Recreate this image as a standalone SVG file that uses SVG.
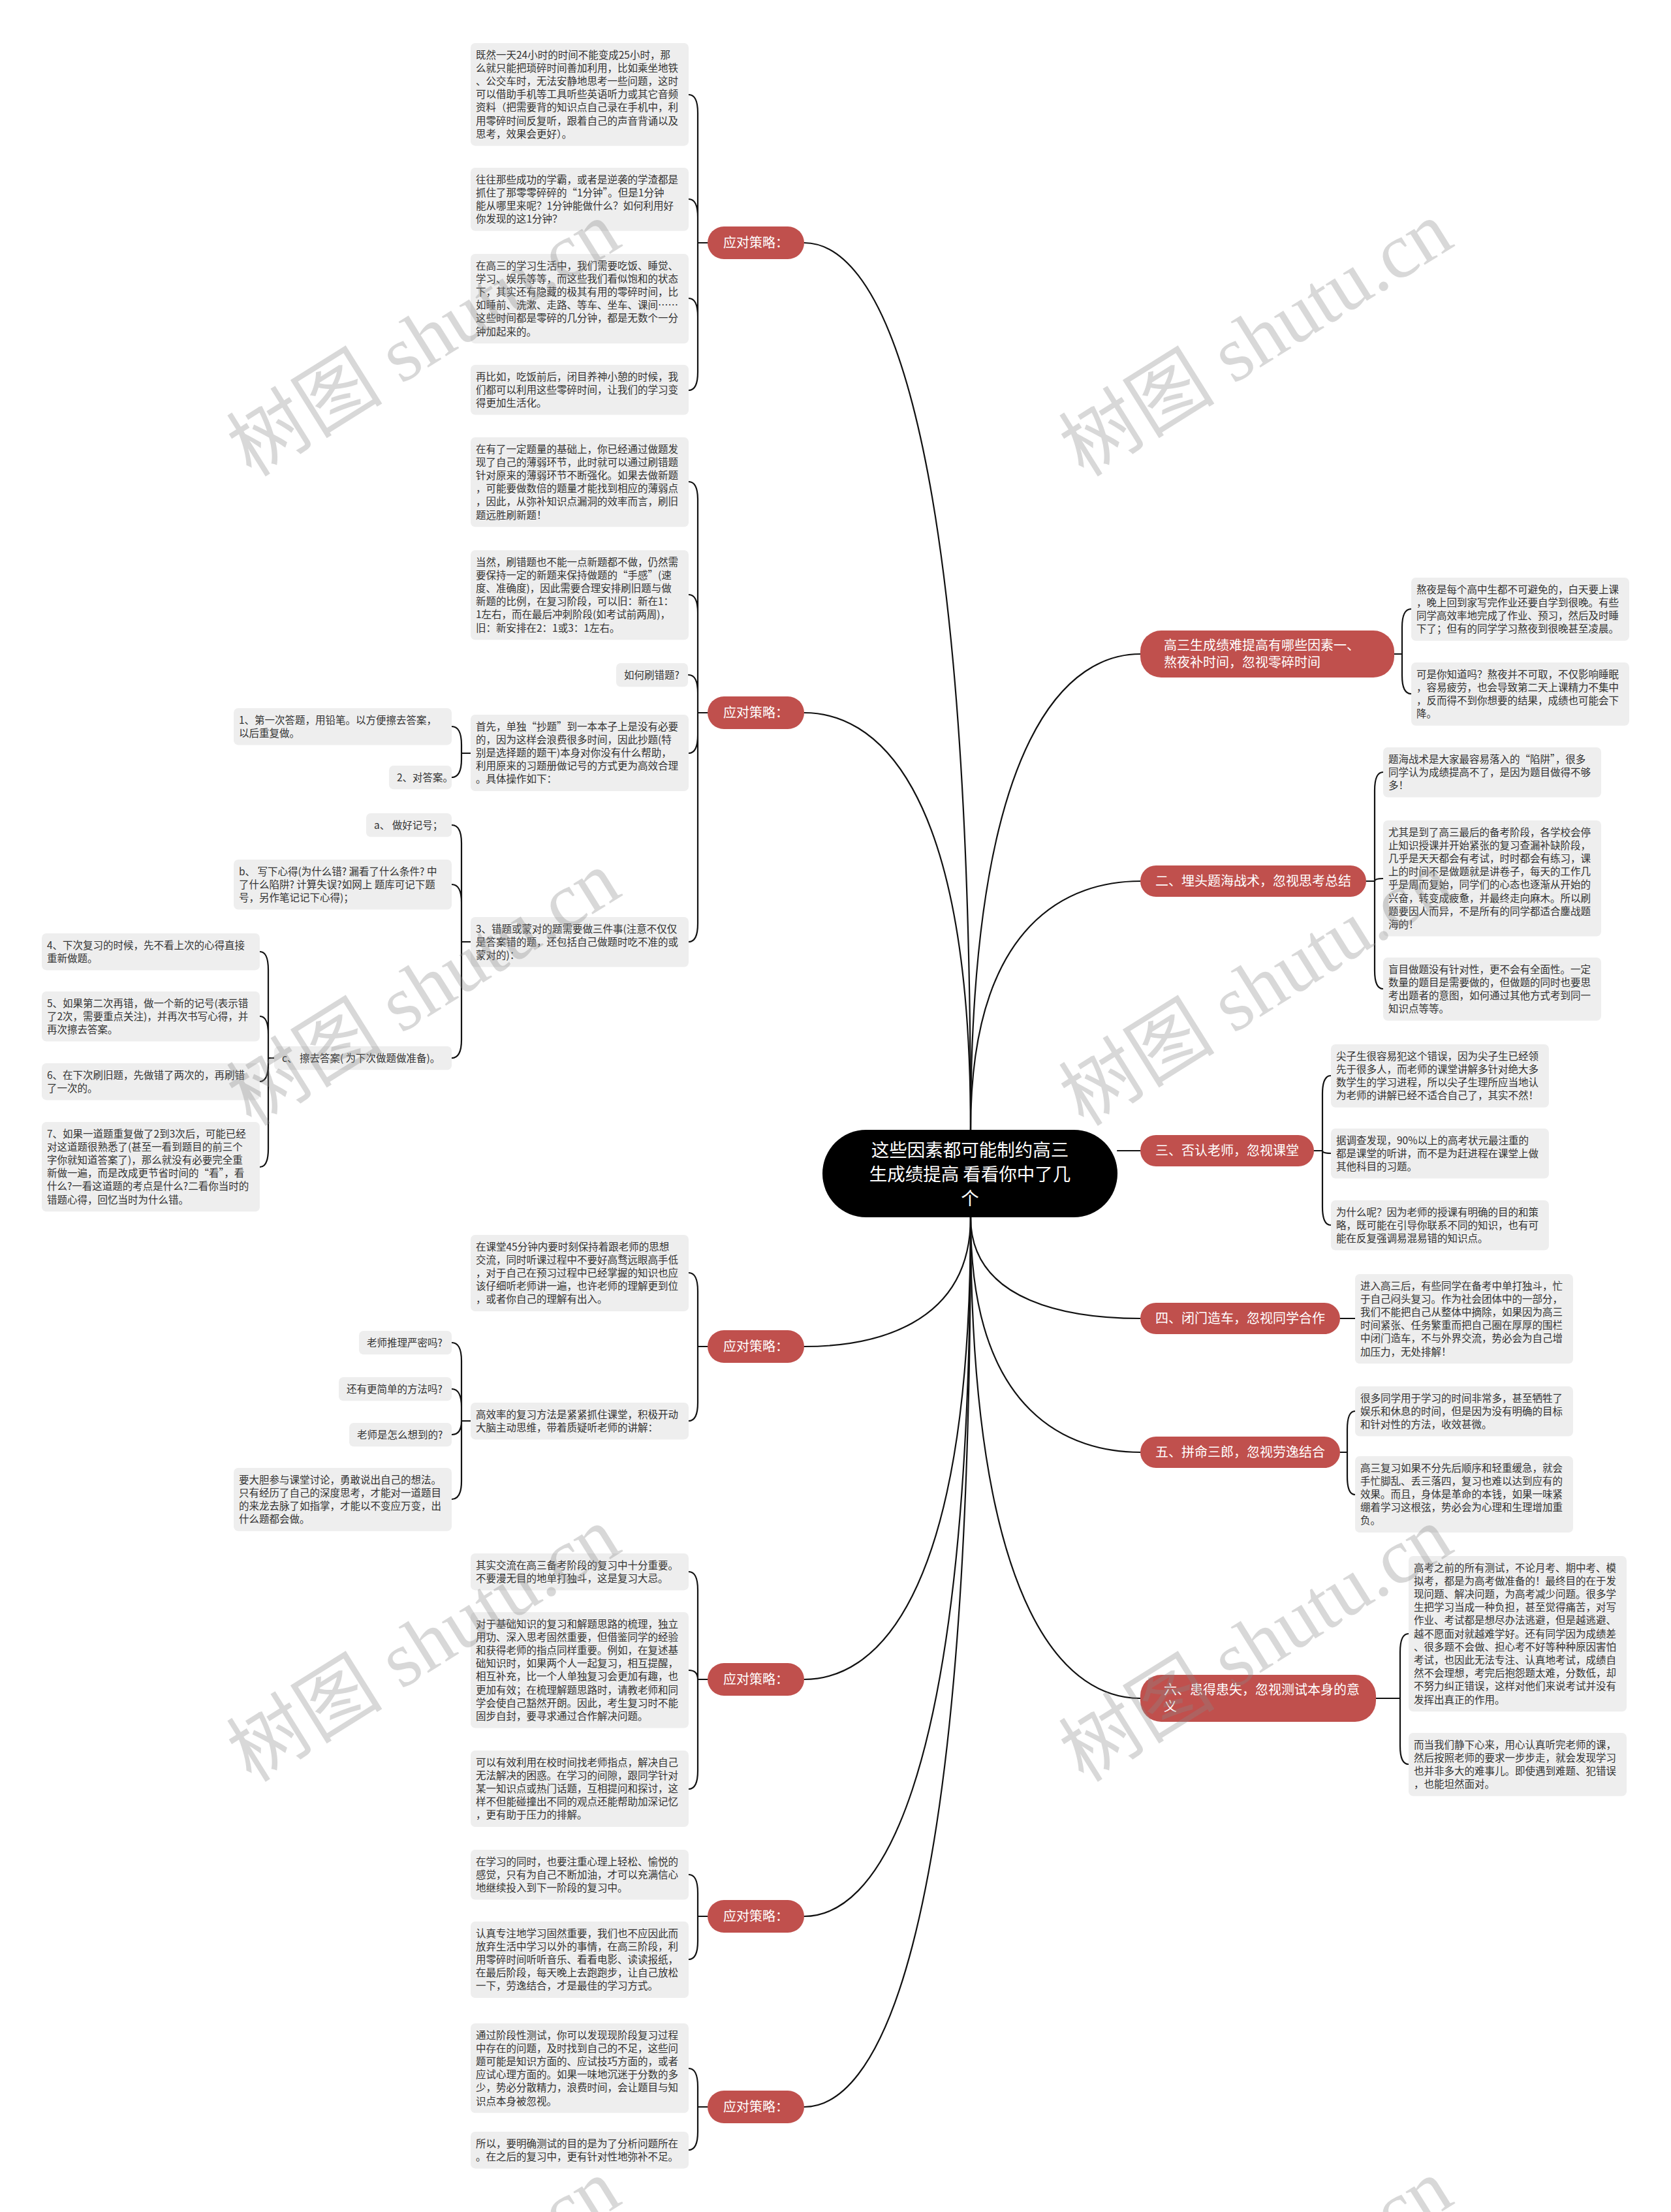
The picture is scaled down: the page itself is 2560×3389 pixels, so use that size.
<svg xmlns="http://www.w3.org/2000/svg" width="2560" height="3389" viewBox="0 0 2560 3389">
<style>
.bg{fill:#ffffff}
.b{fill:#eeeeee}
.t{font-family:"Noto Sans CJK SC","Noto Sans",sans-serif;font-size:15.5px;fill:#333333}
.rn{fill:#c0504d}
.rt{font-family:"Noto Sans CJK SC","Noto Sans",sans-serif;font-size:20px;fill:#ffffff}
.ct{font-family:"Noto Sans CJK SC","Noto Sans",sans-serif;font-size:27.5px;fill:#ffffff;text-anchor:middle}
.mid{text-anchor:middle}
.ln{fill:none;stroke:#111111;stroke-width:2.2;stroke-linecap:round}
.wm{font-family:"Liberation Serif","Noto Sans CJK SC",serif;font-size:120px;fill:#888888;fill-opacity:0.33;text-anchor:middle}
</style>
<rect class="bg" x="0" y="0" width="2560" height="3389"/>
<g id="connectors">
<path class="ln" d="M1487,1731 C1487,576 1334,372 1232,372"/>
<path class="ln" d="M1487,1731 C1487,1188 1334,1092 1232,1092"/>
<path class="ln" d="M1487,1731 C1487,1111 1643,1002 1747,1002"/>
<path class="ln" d="M1487,1731 C1487,1407 1643,1350 1747,1350"/>
<path class="ln" d="M1712,1763 H1747"/>
<path class="ln" d="M1487,1865 C1487,2033 1334,2063 1232,2063"/>
<path class="ln" d="M1487,1865 C1487,2467 1334,2573 1232,2573"/>
<path class="ln" d="M1487,1865 C1487,2775 1334,2936 1232,2936"/>
<path class="ln" d="M1487,1865 C1487,3024 1334,3228 1232,3228"/>
<path class="ln" d="M1487,1865 C1487,1997 1643,2020 1747,2020"/>
<path class="ln" d="M1487,1865 C1487,2171 1643,2225 1747,2225"/>
<path class="ln" d="M1487,1865 C1487,2491 1643,2602 1747,2602"/>
<path class="ln" d="M1084,372H1069 M1069,372V173Q1069,145 1055,145 M1069,372V333Q1069,305 1055,305 M1069,372V485Q1069,457 1055,457 M1069,372V570Q1069,598 1055,598"/>
<path class="ln" d="M1084,1092H1069 M1069,1092V766Q1069,738 1055,738 M1069,1092V939Q1069,911 1055,911 M1069,1092V1062Q1069,1034 1055,1034 M1069,1092V1126Q1069,1154 1055,1154 M1069,1092V1415Q1069,1443 1055,1443"/>
<path class="ln" d="M721,1154H707 M707,1154V1141Q707,1113 692,1113 M707,1154V1163Q707,1191 692,1191"/>
<path class="ln" d="M721,1443H707 M707,1443V1292Q707,1264 692,1264 M707,1443V1383Q707,1355 692,1355 M707,1443V1593Q707,1621 692,1621"/>
<path class="ln" d="M420,1621H411 M411,1621V1486Q411,1458 398,1458 M411,1621V1585Q411,1557 398,1557 M411,1621V1629Q411,1657 398,1657 M411,1621V1760Q411,1788 398,1788"/>
<path class="ln" d="M1084,2063H1069 M1069,2063V1978Q1069,1950 1055,1950 M1069,2063V2149Q1069,2177 1055,2177"/>
<path class="ln" d="M721,2177H707 M707,2177V2085Q707,2057 692,2057 M707,2177V2156Q707,2128 692,2128 M707,2177Q707,2198 692,2198 M707,2177V2269Q707,2297 692,2297"/>
<path class="ln" d="M1084,2573H1069 M1069,2573V2436Q1069,2408 1055,2408 M1069,2573Q1069,2559 1055,2559 M1069,2573V2713Q1069,2741 1055,2741"/>
<path class="ln" d="M1084,2936H1069 M1069,2936V2900Q1069,2872 1055,2872 M1069,2936V2974Q1069,3002 1055,3002"/>
<path class="ln" d="M1084,3228H1069 M1069,3228V3197Q1069,3169 1055,3169 M1069,3228V3266Q1069,3294 1055,3294"/>
<path class="ln" d="M2136,1002H2148 M2148,1002V961Q2148,933 2162,933 M2148,1002V1035Q2148,1063 2162,1063"/>
<path class="ln" d="M2093,1350H2106 M2106,1350V1211Q2106,1183 2119,1183 M2106,1350Q2106,1346 2119,1346 M2106,1350V1487Q2106,1515 2119,1515"/>
<path class="ln" d="M2013,1763H2026 M2026,1763V1676Q2026,1648 2039,1648 M2026,1763Q2026,1767 2039,1767 M2026,1763V1849Q2026,1877 2039,1877"/>
<path class="ln" d="M2053,2020H2076"/>
<path class="ln" d="M2053,2225H2064 M2064,2225V2190Q2064,2162 2076,2162 M2064,2225V2262Q2064,2290 2076,2290"/>
<path class="ln" d="M2108,2602H2145 M2145,2602V2531Q2145,2503 2158,2503 M2145,2602V2675Q2145,2703 2158,2703"/>
</g>
<g id="center"><rect x="1260" y="1731" width="452" height="134" rx="67" fill="#000000"/><text class="ct" x="1486" y="1772"><tspan x="1486">这些因素都可能制约高三</tspan><tspan x="1486" dy="37">生成绩提高 看看你中了几</tspan><tspan x="1486" dy="37">个</tspan></text></g>
<g id="L1"><rect class="rn" x="1084" y="347" width="148" height="50" rx="25"/><text class="rt mid" x="1158" y="379">应对策略：</text></g>
<g id="L2"><rect class="rn" x="1084" y="1067" width="148" height="50" rx="25"/><text class="rt mid" x="1158" y="1099">应对策略：</text></g>
<g id="L3"><rect class="rn" x="1084" y="2038" width="148" height="50" rx="25"/><text class="rt mid" x="1158" y="2070">应对策略：</text></g>
<g id="L4"><rect class="rn" x="1084" y="2548" width="148" height="50" rx="25"/><text class="rt mid" x="1158" y="2580">应对策略：</text></g>
<g id="L5"><rect class="rn" x="1084" y="2911" width="148" height="50" rx="25"/><text class="rt mid" x="1158" y="2943">应对策略：</text></g>
<g id="L6"><rect class="rn" x="1084" y="3203" width="148" height="50" rx="25"/><text class="rt mid" x="1158" y="3235">应对策略：</text></g>
<g id="R1"><rect class="rn" x="1747" y="966" width="389" height="72" rx="32"/><text class="rt" x="1783" y="996"><tspan x="1783">高三生成绩难提高有哪些因素一、</tspan><tspan x="1783" dy="26">熬夜补时间，忽视零碎时间</tspan></text></g>
<g id="R2"><rect class="rn" x="1747" y="1326" width="346" height="48" rx="24"/><text class="rt mid" x="1920" y="1357">二、埋头题海战术，忽视思考总结</text></g>
<g id="R3"><rect class="rn" x="1747" y="1739" width="266" height="48" rx="24"/><text class="rt mid" x="1880" y="1770">三、否认老师，忽视课堂</text></g>
<g id="R4"><rect class="rn" x="1747" y="1996" width="306" height="48" rx="24"/><text class="rt mid" x="1900" y="2027">四、闭门造车，忽视同学合作</text></g>
<g id="R5"><rect class="rn" x="1747" y="2201" width="306" height="48" rx="24"/><text class="rt mid" x="1900" y="2232">五、拼命三郎，忽视劳逸结合</text></g>
<g id="R6"><rect class="rn" x="1747" y="2566" width="361" height="72" rx="32"/><text class="rt" x="1783" y="2596"><tspan x="1783">六、患得患失，忽视测试本身的意</tspan><tspan x="1783" dy="26">义</tspan></text></g>
<g id="a1"><rect class="b" x="721" y="66" width="334" height="157.4" rx="7"/><text class="t" x="729" y="89.5"><tspan x="729">既然一天24小时的时间不能变成25小时，那</tspan><tspan x="729" dy="20.2">么就只能把琐碎时间善加利用，比如乘坐地铁</tspan><tspan x="729" dy="20.2">、公交车时，无法安静地思考一些问题，这时</tspan><tspan x="729" dy="20.2">可以借助手机等工具听些英语听力或其它音频</tspan><tspan x="729" dy="20.2">资料（把需要背的知识点自己录在手机中，利</tspan><tspan x="729" dy="20.2">用零碎时间反复听，跟着自己的声音背诵以及</tspan><tspan x="729" dy="20.2">思考，效果会更好）。</tspan></text></g>
<g id="a2"><rect class="b" x="721" y="257" width="334" height="96.8" rx="7"/><text class="t" x="729" y="280.5"><tspan x="729">往往那些成功的学霸，或者是逆袭的学渣都是</tspan><tspan x="729" dy="20.2">抓住了那零零碎碎的“1分钟”。但是1分钟</tspan><tspan x="729" dy="20.2">能从哪里来呢？1分钟能做什么？如何利用好</tspan><tspan x="729" dy="20.2">你发现的这1分钟？</tspan></text></g>
<g id="a3"><rect class="b" x="721" y="389" width="334" height="137.2" rx="7"/><text class="t" x="729" y="412.5"><tspan x="729">在高三的学习生活中，我们需要吃饭、睡觉、</tspan><tspan x="729" dy="20.2">学习、娱乐等等，而这些我们看似饱和的状态</tspan><tspan x="729" dy="20.2">下，其实还有隐藏的极其有用的零碎时间，比</tspan><tspan x="729" dy="20.2">如睡前、洗漱、走路、等车、坐车、课间……</tspan><tspan x="729" dy="20.2">这些时间都是零碎的几分钟，都是无数个一分</tspan><tspan x="729" dy="20.2">钟加起来的。</tspan></text></g>
<g id="a4"><rect class="b" x="721" y="559" width="334" height="76.6" rx="7"/><text class="t" x="729" y="582.5"><tspan x="729">再比如，吃饭前后，闭目养神小憩的时候，我</tspan><tspan x="729" dy="20.2">们都可以利用这些零碎时间，让我们的学习变</tspan><tspan x="729" dy="20.2">得更加生活化。</tspan></text></g>
<g id="b1"><rect class="b" x="721" y="670" width="334" height="137.2" rx="7"/><text class="t" x="729" y="693.5"><tspan x="729">在有了一定题量的基础上，你已经通过做题发</tspan><tspan x="729" dy="20.2">现了自己的薄弱环节，此时就可以通过刷错题</tspan><tspan x="729" dy="20.2">针对原来的薄弱环节不断强化。如果去做新题</tspan><tspan x="729" dy="20.2">，可能要做数倍的题量才能找到相应的薄弱点</tspan><tspan x="729" dy="20.2">，因此，从弥补知识点漏洞的效率而言，刷旧</tspan><tspan x="729" dy="20.2">题远胜刷新题！</tspan></text></g>
<g id="b2"><rect class="b" x="721" y="843" width="334" height="137.2" rx="7"/><text class="t" x="729" y="866.5"><tspan x="729">当然，刷错题也不能一点新题都不做，仍然需</tspan><tspan x="729" dy="20.2">要保持一定的新题来保持做题的“手感”(速</tspan><tspan x="729" dy="20.2">度、准确度)，因此需要合理安排刷旧题与做</tspan><tspan x="729" dy="20.2">新题的比例，在复习阶段，可以旧：新在1：</tspan><tspan x="729" dy="20.2">1左右，而在最后冲刺阶段(如考试前两周)，</tspan><tspan x="729" dy="20.2">旧：新安排在2：1或3：1左右。</tspan></text></g>
<g id="b3"><rect class="b" x="944" y="1016" width="110" height="36.2" rx="7"/><text class="t" x="956" y="1039.5">如何刷错题?</text></g>
<g id="b4"><rect class="b" x="721" y="1095" width="334" height="117" rx="7"/><text class="t" x="729" y="1118.5"><tspan x="729">首先，单独“抄题”到一本本子上是没有必要</tspan><tspan x="729" dy="20.2">的，因为这样会浪费很多时间，因此抄题(特</tspan><tspan x="729" dy="20.2">别是选择题的题干)本身对你没有什么帮助，</tspan><tspan x="729" dy="20.2">利用原来的习题册做记号的方式更为高效合理</tspan><tspan x="729" dy="20.2">。具体操作如下：</tspan></text></g>
<g id="b4a"><rect class="b" x="358" y="1085" width="334" height="56.4" rx="7"/><text class="t" x="366" y="1108.5"><tspan x="366">1、第一次答题，用铅笔。以方便擦去答案，</tspan><tspan x="366" dy="20.2">以后重复做。</tspan></text></g>
<g id="b4b"><rect class="b" x="596" y="1173" width="96" height="36.2" rx="7"/><text class="t" x="608" y="1196.5">2、对答案。</text></g>
<g id="b5"><rect class="b" x="721" y="1405" width="334" height="76.6" rx="7"/><text class="t" x="729" y="1428.5"><tspan x="729">3、错题或蒙对的题需要做三件事(注意不仅仅</tspan><tspan x="729" dy="20.2">是答案错的题，还包括自己做题时吃不准的或</tspan><tspan x="729" dy="20.2">蒙对的)：</tspan></text></g>
<g id="b5a"><rect class="b" x="561" y="1246" width="131" height="36.2" rx="7"/><text class="t" x="573" y="1269.5">a、 做好记号；</text></g>
<g id="b5b"><rect class="b" x="358" y="1317" width="334" height="76.6" rx="7"/><text class="t" x="366" y="1340.5"><tspan x="366">b、 写下心得(为什么错? 漏看了什么条件? 中</tspan><tspan x="366" dy="20.2">了什么陷阱? 计算失误?如网上 题库可记下题</tspan><tspan x="366" dy="20.2">号，另作笔记记下心得)；</tspan></text></g>
<g id="b5c"><rect class="b" x="420" y="1603" width="272" height="36.2" rx="7"/><text class="t" x="432" y="1626.5">c、 擦去答案( 为下次做题做准备)。</text></g>
<g id="s4"><rect class="b" x="64" y="1430" width="334" height="56.4" rx="7"/><text class="t" x="72" y="1453.5"><tspan x="72">4、下次复习的时候，先不看上次的心得直接</tspan><tspan x="72" dy="20.2">重新做题。</tspan></text></g>
<g id="s5"><rect class="b" x="64" y="1519" width="334" height="76.6" rx="7"/><text class="t" x="72" y="1542.5"><tspan x="72">5、如果第二次再错，做一个新的记号(表示错</tspan><tspan x="72" dy="20.2">了2次，需要重点关注)，并再次书写心得，并</tspan><tspan x="72" dy="20.2">再次擦去答案。</tspan></text></g>
<g id="s6"><rect class="b" x="64" y="1629" width="334" height="56.4" rx="7"/><text class="t" x="72" y="1652.5"><tspan x="72">6、在下次刷旧题，先做错了两次的，再刷错</tspan><tspan x="72" dy="20.2">了一次的。</tspan></text></g>
<g id="s7"><rect class="b" x="64" y="1719" width="334" height="137.2" rx="7"/><text class="t" x="72" y="1742.5"><tspan x="72">7、如果一道题重复做了2到3次后，可能已经</tspan><tspan x="72" dy="20.2">对这道题很熟悉了(甚至一看到题目的前三个</tspan><tspan x="72" dy="20.2">字你就知道答案了)，那么就没有必要完全重</tspan><tspan x="72" dy="20.2">新做一遍，而是改成更节省时间的“看”，看</tspan><tspan x="72" dy="20.2">什么?一看这道题的考点是什么?二看你当时的</tspan><tspan x="72" dy="20.2">错题心得，回忆当时为什么错。</tspan></text></g>
<g id="c1"><rect class="b" x="721" y="1892" width="334" height="117" rx="7"/><text class="t" x="729" y="1915.5"><tspan x="729">在课堂45分钟内要时刻保持着跟老师的思想</tspan><tspan x="729" dy="20.2">交流，同时听课过程中不要好高骛远眼高手低</tspan><tspan x="729" dy="20.2">，对于自己在预习过程中已经掌握的知识也应</tspan><tspan x="729" dy="20.2">该仔细听老师讲一遍，也许老师的理解更到位</tspan><tspan x="729" dy="20.2">，或者你自己的理解有出入。</tspan></text></g>
<g id="c2"><rect class="b" x="721" y="2149" width="334" height="56.4" rx="7"/><text class="t" x="729" y="2172.5"><tspan x="729">高效率的复习方法是紧紧抓住课堂，积极开动</tspan><tspan x="729" dy="20.2">大脑主动思维，带着质疑听老师的讲解：</tspan></text></g>
<g id="c2a"><rect class="b" x="550" y="2039" width="142" height="36.2" rx="7"/><text class="t" x="562" y="2062.5">老师推理严密吗?</text></g>
<g id="c2b"><rect class="b" x="519" y="2110" width="173" height="36.2" rx="7"/><text class="t" x="531" y="2133.5">还有更简单的方法吗?</text></g>
<g id="c2c"><rect class="b" x="535" y="2180" width="157" height="36.2" rx="7"/><text class="t" x="547" y="2203.5">老师是怎么想到的?</text></g>
<g id="c2d"><rect class="b" x="358" y="2249" width="334" height="96.8" rx="7"/><text class="t" x="366" y="2272.5"><tspan x="366">要大胆参与课堂讨论，勇敢说出自己的想法。</tspan><tspan x="366" dy="20.2">只有经历了自己的深度思考，才能对一道题目</tspan><tspan x="366" dy="20.2">的来龙去脉了如指掌，才能以不变应万变，出</tspan><tspan x="366" dy="20.2">什么题都会做。</tspan></text></g>
<g id="d1"><rect class="b" x="721" y="2380" width="334" height="56.4" rx="7"/><text class="t" x="729" y="2403.5"><tspan x="729">其实交流在高三备考阶段的复习中十分重要。</tspan><tspan x="729" dy="20.2">不要漫无目的地单打独斗，这是复习大忌。</tspan></text></g>
<g id="d2"><rect class="b" x="721" y="2470" width="334" height="177.6" rx="7"/><text class="t" x="729" y="2493.5"><tspan x="729">对于基础知识的复习和解题思路的梳理，独立</tspan><tspan x="729" dy="20.2">用功、深入思考固然重要，但借鉴同学的经验</tspan><tspan x="729" dy="20.2">和获得老师的指点同样重要。例如，在复述基</tspan><tspan x="729" dy="20.2">础知识时，如果两个人一起复习，相互提醒，</tspan><tspan x="729" dy="20.2">相互补充，比一个人单独复习会更加有趣，也</tspan><tspan x="729" dy="20.2">更加有效；在梳理解题思路时，请教老师和同</tspan><tspan x="729" dy="20.2">学会使自己豁然开朗。因此，考生复习时不能</tspan><tspan x="729" dy="20.2">固步自封，要寻求通过合作解决问题。</tspan></text></g>
<g id="d3"><rect class="b" x="721" y="2682" width="334" height="117" rx="7"/><text class="t" x="729" y="2705.5"><tspan x="729">可以有效利用在校时间找老师指点，解决自己</tspan><tspan x="729" dy="20.2">无法解决的困惑。在学习的间隙，跟同学针对</tspan><tspan x="729" dy="20.2">某一知识点或热门话题，互相提问和探讨，这</tspan><tspan x="729" dy="20.2">样不但能碰撞出不同的观点还能帮助加深记忆</tspan><tspan x="729" dy="20.2">，更有助于压力的排解。</tspan></text></g>
<g id="e1"><rect class="b" x="721" y="2834" width="334" height="76.6" rx="7"/><text class="t" x="729" y="2857.5"><tspan x="729">在学习的同时，也要注重心理上轻松、愉悦的</tspan><tspan x="729" dy="20.2">感觉，只有为自己不断加油，才可以充满信心</tspan><tspan x="729" dy="20.2">地继续投入到下一阶段的复习中。</tspan></text></g>
<g id="e2"><rect class="b" x="721" y="2944" width="334" height="117" rx="7"/><text class="t" x="729" y="2967.5"><tspan x="729">认真专注地学习固然重要，我们也不应因此而</tspan><tspan x="729" dy="20.2">放弃生活中学习以外的事情，在高三阶段，利</tspan><tspan x="729" dy="20.2">用零碎时间听听音乐、看看电影、读读报纸，</tspan><tspan x="729" dy="20.2">在最后阶段，每天晚上去跑跑步，让自己放松</tspan><tspan x="729" dy="20.2">一下，劳逸结合，才是最佳的学习方式。</tspan></text></g>
<g id="f1"><rect class="b" x="721" y="3100" width="334" height="137.2" rx="7"/><text class="t" x="729" y="3123.5"><tspan x="729">通过阶段性测试，你可以发现现阶段复习过程</tspan><tspan x="729" dy="20.2">中存在的问题，及时找到自己的不足，这些问</tspan><tspan x="729" dy="20.2">题可能是知识方面的、应试技巧方面的，或者</tspan><tspan x="729" dy="20.2">应试心理方面的。如果一味地沉迷于分数的多</tspan><tspan x="729" dy="20.2">少，势必分散精力，浪费时间，会让题目与知</tspan><tspan x="729" dy="20.2">识点本身被忽视。</tspan></text></g>
<g id="f2"><rect class="b" x="721" y="3266" width="334" height="56.4" rx="7"/><text class="t" x="729" y="3289.5"><tspan x="729">所以，要明确测试的目的是为了分析问题所在</tspan><tspan x="729" dy="20.2">。在之后的复习中，更有针对性地弥补不足。</tspan></text></g>
<g id="g1"><rect class="b" x="2162" y="885" width="334" height="96.8" rx="7"/><text class="t" x="2170" y="908.5"><tspan x="2170">熬夜是每个高中生都不可避免的，白天要上课</tspan><tspan x="2170" dy="20.2">，晚上回到家写完作业还要自学到很晚。有些</tspan><tspan x="2170" dy="20.2">同学高效率地完成了作业、预习，然后及时睡</tspan><tspan x="2170" dy="20.2">下了；但有的同学学习熬夜到很晚甚至凌晨。</tspan></text></g>
<g id="g2"><rect class="b" x="2162" y="1015" width="334" height="96.8" rx="7"/><text class="t" x="2170" y="1038.5"><tspan x="2170">可是你知道吗？熬夜并不可取，不仅影响睡眠</tspan><tspan x="2170" dy="20.2">，容易疲劳，也会导致第二天上课精力不集中</tspan><tspan x="2170" dy="20.2">，反而得不到你想要的结果，成绩也可能会下</tspan><tspan x="2170" dy="20.2">降。</tspan></text></g>
<g id="h1"><rect class="b" x="2119" y="1145" width="334" height="76.6" rx="7"/><text class="t" x="2127" y="1168.5"><tspan x="2127">题海战术是大家最容易落入的“陷阱”，很多</tspan><tspan x="2127" dy="20.2">同学认为成绩提高不了，是因为题目做得不够</tspan><tspan x="2127" dy="20.2">多！</tspan></text></g>
<g id="h2"><rect class="b" x="2119" y="1257" width="334" height="177.6" rx="7"/><text class="t" x="2127" y="1280.5"><tspan x="2127">尤其是到了高三最后的备考阶段，各学校会停</tspan><tspan x="2127" dy="20.2">止知识授课并开始紧张的复习查漏补缺阶段，</tspan><tspan x="2127" dy="20.2">几乎是天天都会有考试，时时都会有练习，课</tspan><tspan x="2127" dy="20.2">上的时间不是做题就是讲卷子，每天的工作几</tspan><tspan x="2127" dy="20.2">乎是周而复始，同学们的心态也逐渐从开始的</tspan><tspan x="2127" dy="20.2">兴奋，转变成疲惫，并最终走向麻木。所以刷</tspan><tspan x="2127" dy="20.2">题要因人而异，不是所有的同学都适合鏖战题</tspan><tspan x="2127" dy="20.2">海的！</tspan></text></g>
<g id="h3"><rect class="b" x="2119" y="1467" width="334" height="96.8" rx="7"/><text class="t" x="2127" y="1490.5"><tspan x="2127">盲目做题没有针对性，更不会有全面性。一定</tspan><tspan x="2127" dy="20.2">数量的题目是需要做的，但做题的同时也要思</tspan><tspan x="2127" dy="20.2">考出题者的意图，如何通过其他方式考到同一</tspan><tspan x="2127" dy="20.2">知识点等等。</tspan></text></g>
<g id="i1"><rect class="b" x="2039" y="1600" width="334" height="96.8" rx="7"/><text class="t" x="2047" y="1623.5"><tspan x="2047">尖子生很容易犯这个错误，因为尖子生已经领</tspan><tspan x="2047" dy="20.2">先于很多人，而老师的课堂讲解多针对绝大多</tspan><tspan x="2047" dy="20.2">数学生的学习进程，所以尖子生理所应当地认</tspan><tspan x="2047" dy="20.2">为老师的讲解已经不适合自己了，其实不然！</tspan></text></g>
<g id="i2"><rect class="b" x="2039" y="1729" width="334" height="76.6" rx="7"/><text class="t" x="2047" y="1752.5"><tspan x="2047">据调查发现，90%以上的高考状元最注重的</tspan><tspan x="2047" dy="20.2">都是课堂的听讲，而不是为赶进程在课堂上做</tspan><tspan x="2047" dy="20.2">其他科目的习题。</tspan></text></g>
<g id="i3"><rect class="b" x="2039" y="1839" width="334" height="76.6" rx="7"/><text class="t" x="2047" y="1862.5"><tspan x="2047">为什么呢？因为老师的授课有明确的目的和策</tspan><tspan x="2047" dy="20.2">略，既可能在引导你联系不同的知识，也有可</tspan><tspan x="2047" dy="20.2">能在反复强调易混易错的知识点。</tspan></text></g>
<g id="j1"><rect class="b" x="2076" y="1952" width="334" height="137.2" rx="7"/><text class="t" x="2084" y="1975.5"><tspan x="2084">进入高三后，有些同学在备考中单打独斗，忙</tspan><tspan x="2084" dy="20.2">于自己闷头复习。作为社会团体中的一部分，</tspan><tspan x="2084" dy="20.2">我们不能把自己从整体中摘除，如果因为高三</tspan><tspan x="2084" dy="20.2">时间紧张、任务繁重而把自己圈在厚厚的围栏</tspan><tspan x="2084" dy="20.2">中闭门造车，不与外界交流，势必会为自己增</tspan><tspan x="2084" dy="20.2">加压力，无处排解！</tspan></text></g>
<g id="k1"><rect class="b" x="2076" y="2124" width="334" height="76.6" rx="7"/><text class="t" x="2084" y="2147.5"><tspan x="2084">很多同学用于学习的时间非常多，甚至牺牲了</tspan><tspan x="2084" dy="20.2">娱乐和休息的时间，但是因为没有明确的目标</tspan><tspan x="2084" dy="20.2">和针对性的方法，收效甚微。</tspan></text></g>
<g id="k2"><rect class="b" x="2076" y="2231" width="334" height="117" rx="7"/><text class="t" x="2084" y="2254.5"><tspan x="2084">高三复习如果不分先后顺序和轻重缓急，就会</tspan><tspan x="2084" dy="20.2">手忙脚乱、丢三落四，复习也难以达到应有的</tspan><tspan x="2084" dy="20.2">效果。而且，身体是革命的本钱，如果一味紧</tspan><tspan x="2084" dy="20.2">绷着学习这根弦，势必会为心理和生理增加重</tspan><tspan x="2084" dy="20.2">负。</tspan></text></g>
<g id="m1"><rect class="b" x="2158" y="2384" width="334" height="238.2" rx="7"/><text class="t" x="2166" y="2407.5"><tspan x="2166">高考之前的所有测试，不论月考、期中考、模</tspan><tspan x="2166" dy="20.2">拟考，都是为高考做准备的！最终目的在于发</tspan><tspan x="2166" dy="20.2">现问题、解决问题，为高考减少问题。很多学</tspan><tspan x="2166" dy="20.2">生把学习当成一种负担，甚至觉得痛苦，对写</tspan><tspan x="2166" dy="20.2">作业、考试都是想尽办法逃避，但是越逃避、</tspan><tspan x="2166" dy="20.2">越不愿面对就越难学好。还有同学因为成绩差</tspan><tspan x="2166" dy="20.2">、很多题不会做、担心考不好等种种原因害怕</tspan><tspan x="2166" dy="20.2">考试，也因此无法专注、认真地考试，成绩自</tspan><tspan x="2166" dy="20.2">然不会理想，考完后抱怨题太难，分数低，却</tspan><tspan x="2166" dy="20.2">不努力纠正错误，这样对他们来说考试并没有</tspan><tspan x="2166" dy="20.2">发挥出真正的作用。</tspan></text></g>
<g id="m2"><rect class="b" x="2158" y="2655" width="334" height="96.8" rx="7"/><text class="t" x="2166" y="2678.5"><tspan x="2166">而当我们静下心来，用心认真听完老师的课，</tspan><tspan x="2166" dy="20.2">然后按照老师的要求一步步走，就会发现学习</tspan><tspan x="2166" dy="20.2">也并非多大的难事儿。即使遇到难题、犯错误</tspan><tspan x="2166" dy="20.2">，也能坦然面对。</tspan></text></g>
<g id="watermarks">
<text class="wm" x="649" y="560" transform="rotate(-32 649 519)">树图 shutu.cn</text>
<text class="wm" x="1924" y="560" transform="rotate(-32 1924 519)">树图 shutu.cn</text>
<text class="wm" x="649" y="1555" transform="rotate(-32 649 1514)">树图 shutu.cn</text>
<text class="wm" x="1924" y="1555" transform="rotate(-32 1924 1514)">树图 shutu.cn</text>
<text class="wm" x="649" y="2560" transform="rotate(-32 649 2519)">树图 shutu.cn</text>
<text class="wm" x="1924" y="2560" transform="rotate(-32 1924 2519)">树图 shutu.cn</text>
<text class="wm" x="649" y="3559" transform="rotate(-32 649 3518)">树图 shutu.cn</text>
<text class="wm" x="1924" y="3559" transform="rotate(-32 1924 3518)">树图 shutu.cn</text>
</g>
</svg>
